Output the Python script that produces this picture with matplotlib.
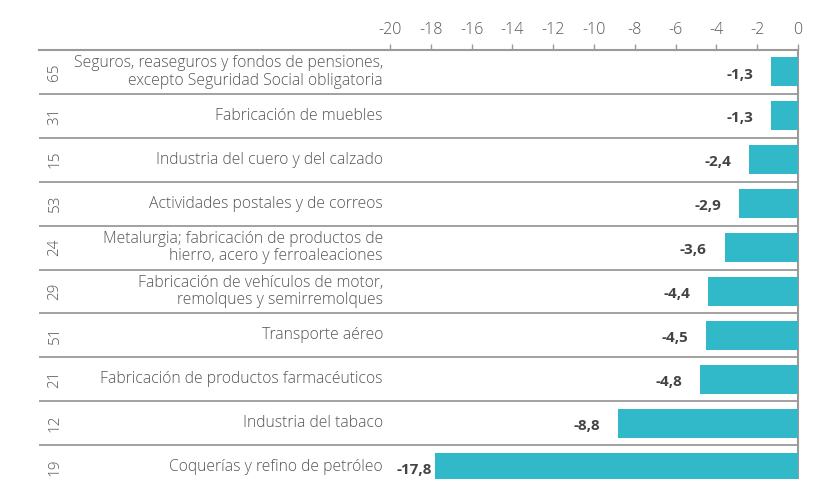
import matplotlib.pyplot as plt

# --- datos ---
codigos = ["65", "31", "15", "53", "24", "29", "51", "21", "12", "19"]
sectores = [
    "Seguros, reaseguros y fondos de pensiones,\nexcepto Seguridad Social obligatoria",
    "Fabricación de muebles",
    "Industria del cuero y del calzado",
    "Actividades postales y de correos",
    "Metalurgia; fabricación de productos de\nhierro, acero y ferroaleaciones",
    "Fabricación de vehículos de motor,\nremolques y semirremolques",
    "Transporte aéreo",
    "Fabricación de productos farmacéuticos",
    "Industria del tabaco",
    "Coquerías y refino de petróleo",
]
valores = [-1.3, -1.3, -2.4, -2.9, -3.6, -4.4, -4.5, -4.8, -8.8, -17.8]
ticks = list(range(-20, 1, 2))

# --- estilo ---
plt.rcParams['font.family'] = ['Open Sans', 'DejaVu Sans']
COLOR_BARRA = '#31b8c9'
GRIS_TXT = '#555555'
GRIS_LIN = '#9a9a9a'

W, H = 825, 479
fig = plt.figure(figsize=(W / 100, H / 100), dpi=100)

# eje ancho: incluye la zona de etiquetas a la izquierda
x_izq, x_m20, x_cero = 39, 390, 798
top_px, fila_px = 50, 43.9
unid_px = 20 / (x_cero - x_m20)
xmin = -20 - (x_m20 - x_izq) * unid_px
n = len(valores)
alto = n * fila_px
ax = fig.add_axes([x_izq / W, 1 - (top_px + alto) / H, (x_cero - x_izq) / W, alto / H])

y = list(range(n))
ax.barh(y, valores, height=0.66, color=COLOR_BARRA, zorder=3)
ax.set_xlim(xmin, 0)
ax.set_ylim(n - 0.5, -0.5)

# separadores entre filas
for i in range(1, n):
    ax.axhline(i - 0.5, color=GRIS_LIN, lw=1.3, zorder=1)

for s in ['left', 'bottom']:
    ax.spines[s].set_visible(False)
for s in ['top', 'right']:
    ax.spines[s].set_color(GRIS_LIN)
    ax.spines[s].set_linewidth(1.5)

ax.xaxis.tick_top()
ax.set_xticks(ticks)
ax.set_xticklabels([str(t) for t in ticks])
ax.tick_params(axis='x', length=4, width=1, color=GRIS_LIN, labelcolor=GRIS_TXT,
               labelsize=11.5, pad=5, direction='out')
for t in ax.get_xticklabels():
    t.set_fontweight('light')
ax.set_yticks([])

# etiquetas de categoría y código
x_lab = -20 - 7 * unid_px
x_cod = xmin + 16 * unid_px
for i, (cod, sec, v) in enumerate(zip(codigos, sectores, valores)):
    ax.text(x_lab, i, sec, ha='right', va='center', fontsize=11.3, color=GRIS_TXT,
            fontweight='light', linespacing=1.1)
    ax.text(x_cod, i, cod, ha='center', va='center', rotation=90, fontsize=11,
            color=GRIS_TXT, fontweight='light')
    off = -2 if v < -15 else -13
    ax.annotate(f"{v:.1f}".replace('.', ','), (v, i + 0.06), xytext=(off, 0),
                textcoords='offset points', ha='right', va='center', fontsize=11,
                fontweight='bold', color='#444444')

fig.savefig('out.png', dpi=100)
